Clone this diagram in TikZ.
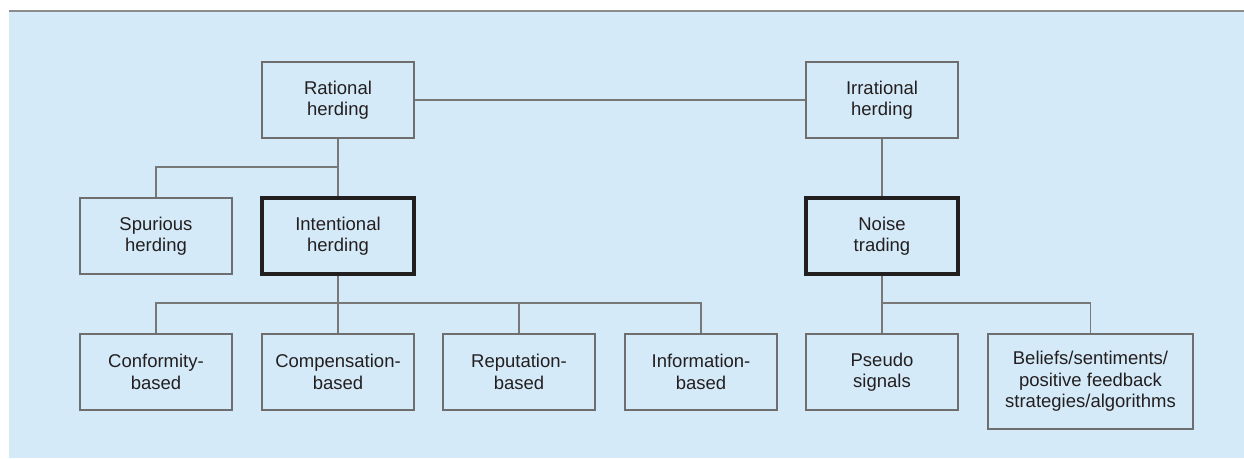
\documentclass[tikz,border=0pt]{standalone}
\usepackage{fontspec}
\setmainfont{Liberation Sans}
\definecolor{bg}{RGB}{213,234,248}
\definecolor{boxgray}{RGB}{110,110,110}
\definecolor{linegray}{RGB}{120,120,120}
\definecolor{thickc}{RGB}{35,31,32}
\definecolor{rulec}{RGB}{140,140,140}
\definecolor{txt}{RGB}{35,31,32}
\begin{document}
\begin{tikzpicture}[x=1pt,y=-1pt,
  box/.style={draw=boxgray, line width=1.6pt, minimum width=152pt, minimum height=76pt, inner sep=0pt, align=center, text=txt, font=\fontsize{18.5}{21.5}\selectfont},
  thickbox/.style={box, draw=thickc, line width=3.2pt},
  conn/.style={draw=linegray, line width=1.3pt}]
\useasboundingbox (0,0) rectangle (1244,458);
\fill[bg] (9,12) rectangle (1244,458);
\draw[rulec, line width=2.5pt] (9,11) -- (1244,11);

\node[box] (rat) at (338,100) {Rational\\herding};
\node[box] (irr) at (882,100) {Irrational\\herding};
\node[box] (spu) at (156,236) {Spurious\\herding};
\node[thickbox] (int) at (338,236) {Intentional\\herding};
\node[thickbox] (noi) at (882,236) {Noise\\trading};
\node[box] (con) at (156,372) {Conformity-\\based};
\node[box] (com) at (338,372) {Compensation-\\based};
\node[box] (rep) at (519,372) {Reputation-\\based};
\node[box] (inf) at (701,372) {Information-\\based};
\node[box] (pse) at (882,372) {Pseudo\\signals};
\node[box, minimum width=205pt, minimum height=95pt] (bel) at (1090.5,381.5) {Beliefs/sentiments/\\positive feedback\\strategies/algorithms};

\coordinate (b1) at (338,167);
\coordinate (b2) at (338,303);
\coordinate (b3) at (882,303);

\draw[conn] (rat.east) -- (irr.west);
\draw[conn] (rat.south) -- (int.north);
\draw[conn] (b1) -| (spu.north);
\draw[conn] (irr.south) -- (noi.north);
\draw[conn] (int.south) -- (com.north);
\draw[conn] (b2) -| (con.north);
\draw[conn] (b2) -| (inf.north);
\draw[conn] (rep.north) -- (rep.north |- b2);
\draw[conn] (noi.south) -- (pse.north);
\draw[conn] (b3) -| (bel.north);
\end{tikzpicture}
\end{document}
